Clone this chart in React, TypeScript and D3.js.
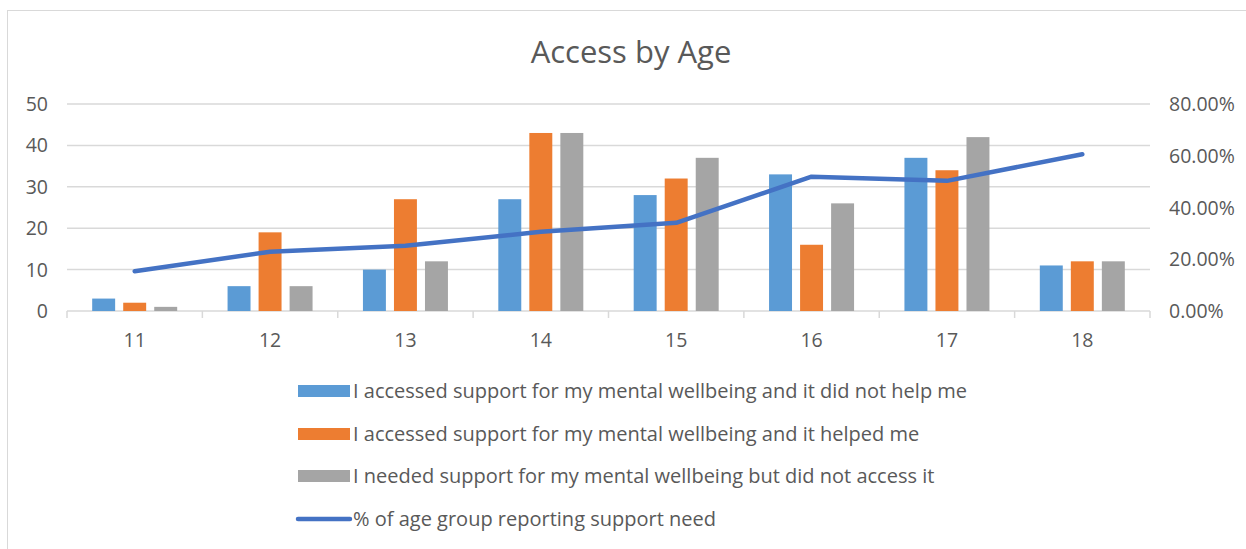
import React from "react";
import * as d3 from "d3";

const categories = ["11", "12", "13", "14", "15", "16", "17", "18"];
const notHelped = [3, 6, 10, 27, 28, 33, 37, 11];
const helped = [2, 19, 27, 43, 32, 16, 34, 12];
const notAccessed = [1, 6, 12, 43, 37, 26, 42, 12];
const pctNeed = [0.154, 0.229, 0.252, 0.306, 0.341, 0.519, 0.503, 0.606];
const leftTicks = [0, 10, 20, 30, 40, 50];
const rightTicks = [0, 0.2, 0.4, 0.6, 0.8];

const seriesNames = [
  "I accessed support for my mental wellbeing and it did not help me",
  "I accessed support for my mental wellbeing and it helped me",
  "I needed support for my mental wellbeing but did not access it",
  "% of age group reporting support need",
];
const colors = ["#5B9BD5", "#ED7D31", "#A5A5A5"];
const lineColor = "#4472C4";
const textColor = "#595959";
const font = "'Open Sans', Lato, sans-serif";

export default function App() {
  const W = 1246, H = 549;
  const left = 67, right = 1150, top = 104, bottom = 311;
  const x = d3.scaleBand<string>().domain(categories).range([left, right]);
  const y = d3.scaleLinear().domain([0, 50]).range([bottom, top]);
  const y2 = d3.scaleLinear().domain([0, 0.8]).range([bottom, top]);
  const inner = d3.scaleBand<number>().domain([0, 1, 2]).range([0, 85]).paddingInner(0.26);
  const series = [notHelped, helped, notAccessed];
  const line = d3
    .line<number>()
    .x((_, i) => (x(categories[i]) as number) + x.bandwidth() / 2)
    .y((d) => y2(d));
  const legendY = [391, 434, 476, 519];

  return (
    <svg width={W} height={H} style={{ position: "absolute", left: 0, top: 0, background: "#fff" }} fontFamily={font}>
      <rect x={7.5} y={10.5} width={1250} height={560} fill="#fff" stroke="#d9d9d9" />
      <text x={631} y={63} textAnchor="middle" fontSize={31} fill={textColor}>Access by Age</text>
      {leftTicks.map((t) => (
        <g key={t}>
          <line x1={left} x2={right} y1={y(t)} y2={y(t)} stroke="#d9d9d9" strokeWidth={1.5} />
          <text x={48} y={y(t) + 7} textAnchor="end" fontSize={19.5} fill={textColor}>{t}</text>
        </g>
      ))}
      {rightTicks.map((t) => (
        <text key={t} x={1169} y={y2(t) + 7} fontSize={19.5} fill={textColor}>{d3.format(".2%")(t)}</text>
      ))}
      {categories.map((c) => (
        <line key={"tk" + c} x1={x(c) as number} x2={x(c) as number} y1={bottom} y2={bottom + 7} stroke="#d9d9d9" strokeWidth={1.5} />
      ))}
      <line x1={right} x2={right} y1={bottom} y2={bottom + 7} stroke="#d9d9d9" strokeWidth={1.5} />
      {categories.map((c) => (
        <text key={"l" + c} x={(x(c) as number) + x.bandwidth() / 2} y={347} textAnchor="middle" fontSize={19.5} fill={textColor}>{c}</text>
      ))}
      {series.map((s, si) =>
        s.map((v, i) => {
          const gx = (x(categories[i]) as number) + x.bandwidth() / 2 - 42.5;
          return (
            <rect key={si + "-" + i} x={gx + (inner(si) as number)} y={y(v)} width={inner.bandwidth()} height={bottom - y(v)} fill={colors[si]} />
          );
        })
      )}
      <path d={line(pctNeed) || ""} fill="none" stroke={lineColor} strokeWidth={4.5} strokeLinecap="round" strokeLinejoin="round" />
      {seriesNames.map((n, i) => (
        <g key={n}>
          {i < 3 ? (
            <rect x={298} y={legendY[i] - 6} width={52} height={12} fill={colors[i]} />
          ) : (
            <line x1={298} x2={350} y1={legendY[i]} y2={legendY[i]} stroke={lineColor} strokeWidth={4.5} strokeLinecap="round" />
          )}
          <text x={353} y={legendY[i] + 7} fontSize={20} fill={textColor}>{n}</text>
        </g>
      ))}
    </svg>
  );
}
